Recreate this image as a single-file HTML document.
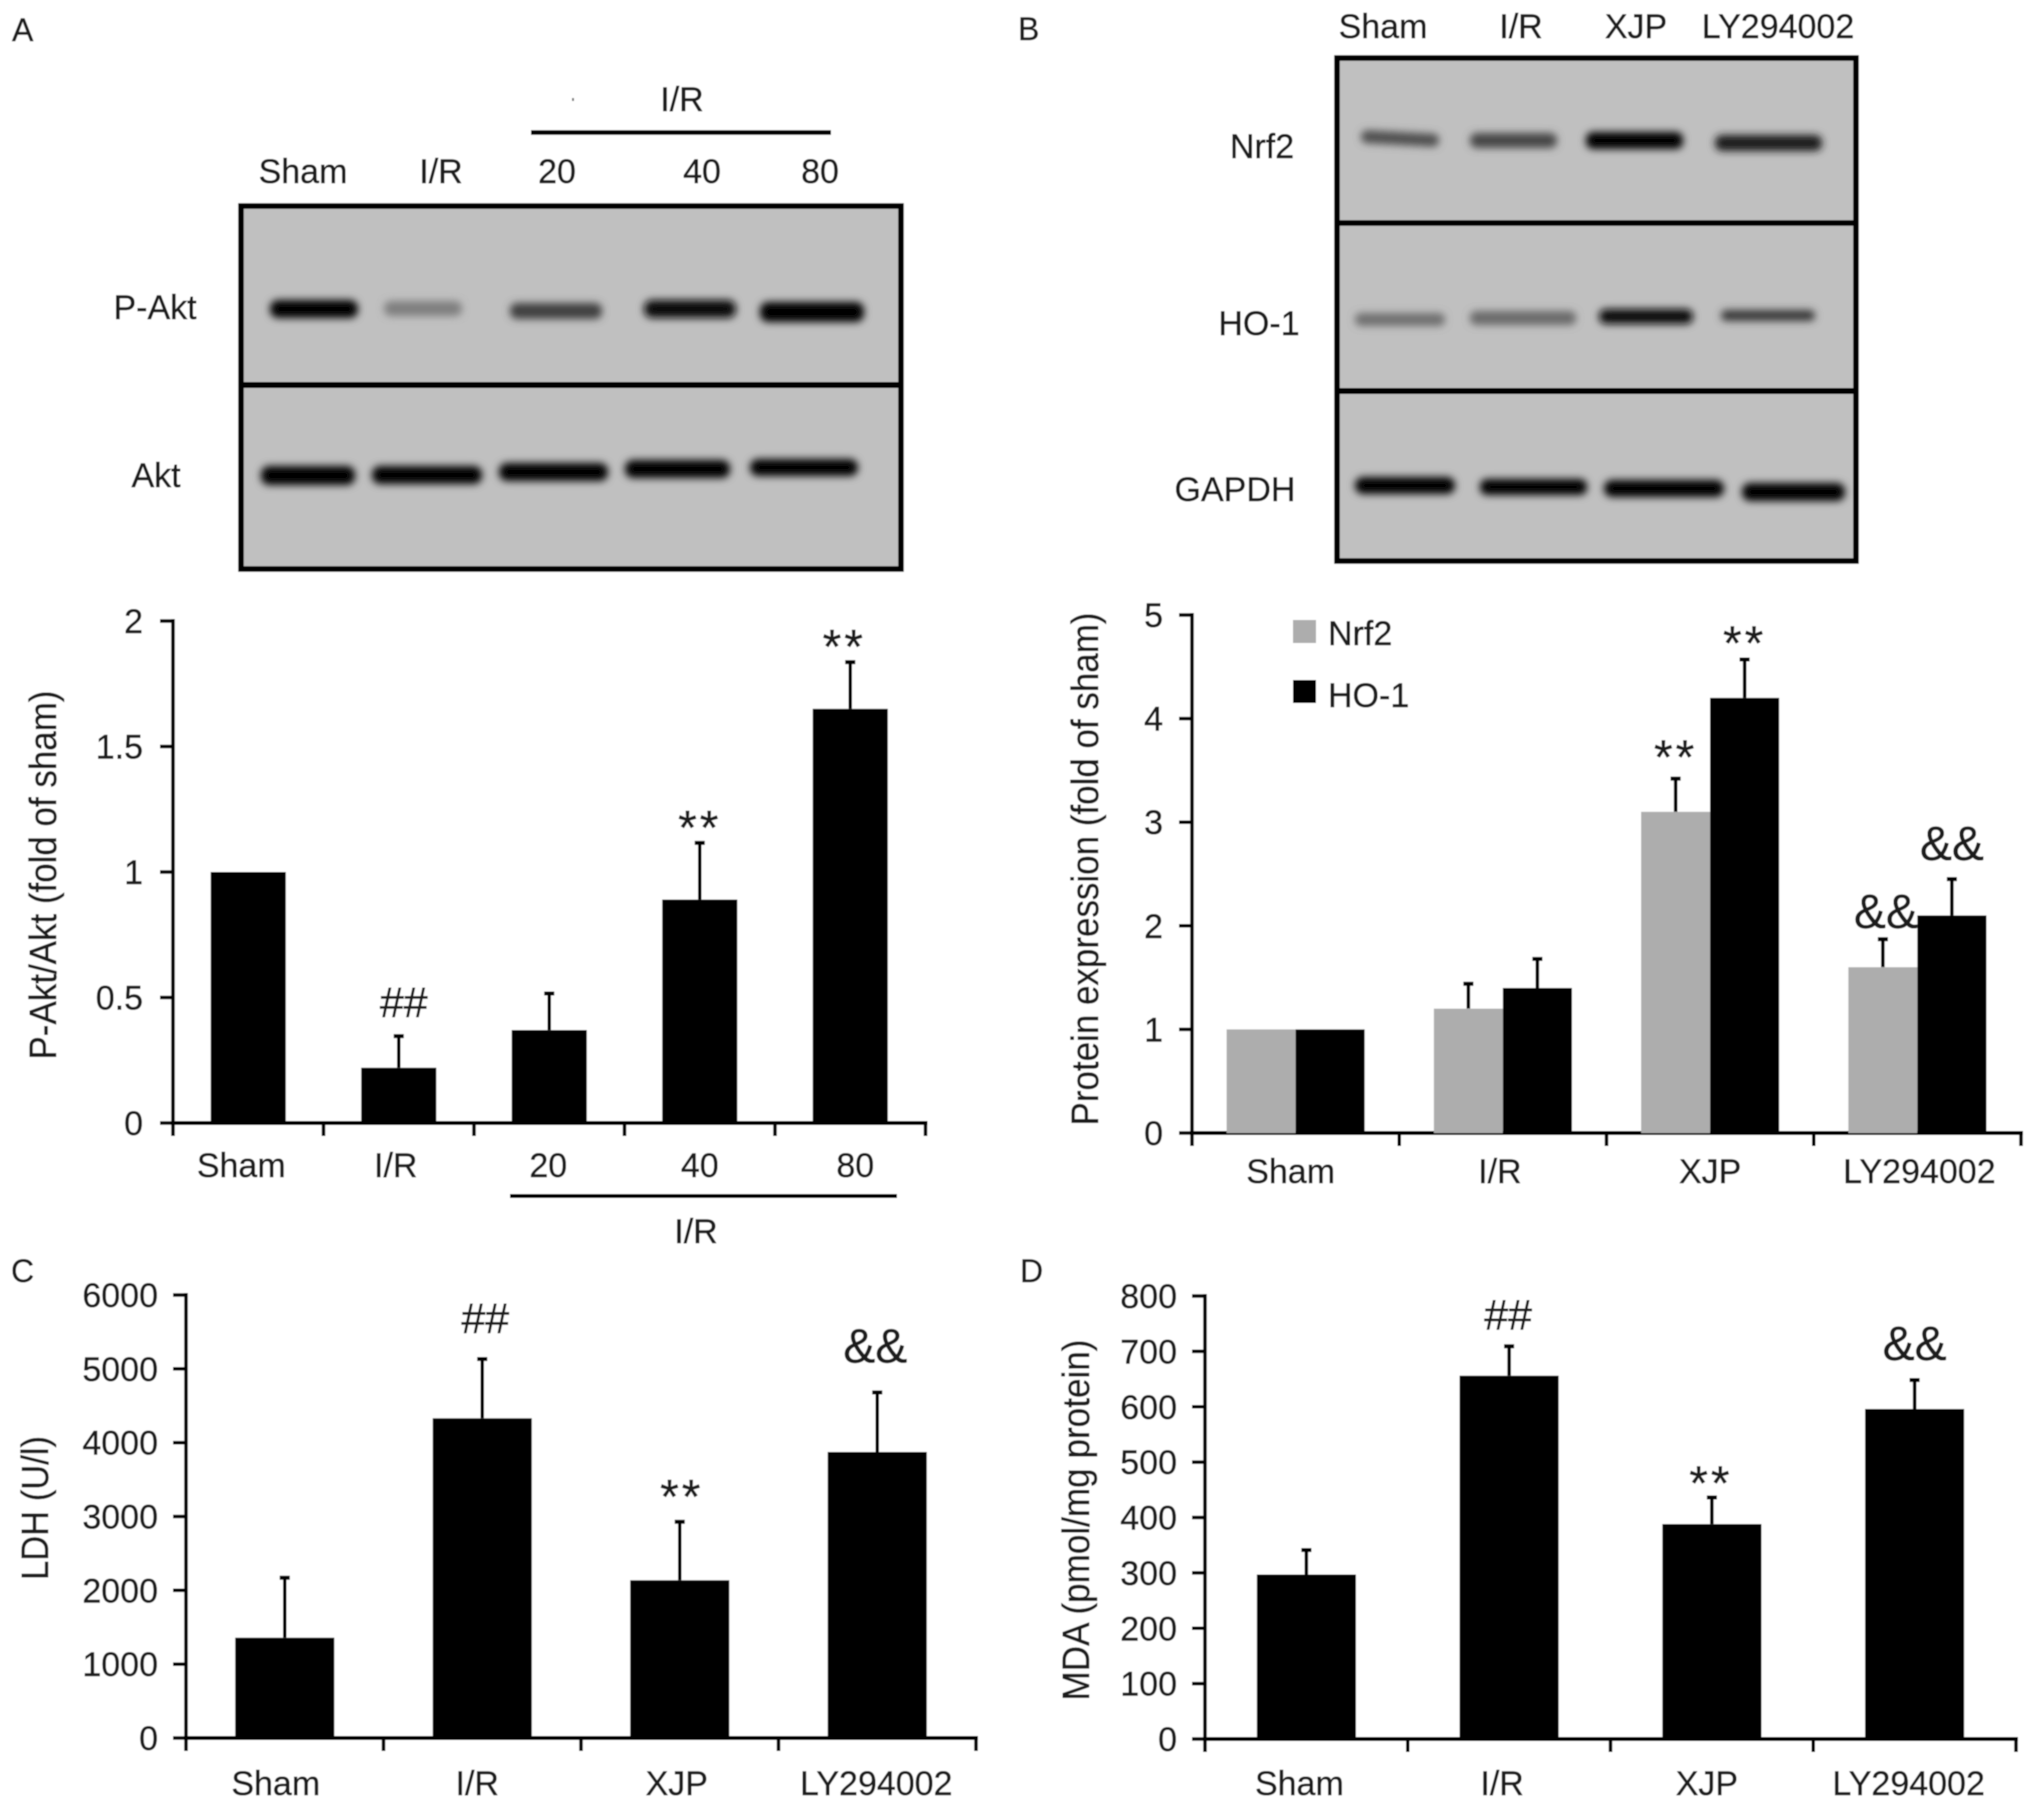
<!DOCTYPE html>
<html lang="en">
<head>
<meta charset="utf-8">
<title>Western blots and bar charts</title>
<style>
html,body{margin:0;padding:0;background:#fff;}
svg{display:block;}
text{font-family:"Liberation Sans",Arial,sans-serif;fill:#1a1a1a;stroke:#1a1a1a;stroke-width:0.45;}
</style>
</head>
<body>
<svg id="figure" xmlns="http://www.w3.org/2000/svg" width="2031" height="1806" viewBox="0 0 2031 1806">
<defs>
<filter id="band" x="-20%" y="-80%" width="140%" height="260%"><feGaussianBlur stdDeviation="4"/></filter>
<filter id="soft" x="-2%" y="-2%" width="104%" height="104%"><feGaussianBlur stdDeviation="0.65"/></filter>
</defs>
<g id="root" filter="url(#soft)">
<rect width="2031" height="1806" fill="#fff"/>

<g font-size="32">
<text x="12" y="41">A</text>
<text x="1018" y="40">B</text>
<text x="11" y="1282">C</text>
<text x="1020" y="1282">D</text>
</g>

<g>
<rect x="241" y="206" width="660" height="363" fill="#c0c0c0" stroke="#000" stroke-width="5.500"/>
<line x1="241" x2="901" y1="385" y2="385" stroke="#000" stroke-width="6"/>
<g filter="url(#band)">
<rect x="270" y="300" width="88" height="18" rx="8" fill="#000"/>
<rect x="384" y="301" width="78" height="15" rx="7" fill="#7f7f7f"/>
<rect x="510" y="303" width="92" height="16" rx="7" fill="#404040"/>
<rect x="644" y="300" width="92" height="18" rx="8" fill="#0a0a0a"/>
<rect x="760" y="302" width="104" height="20" rx="8" fill="#000"/>
<rect x="261" y="466" width="94" height="19" rx="8" fill="#000"/>
<rect x="372" y="466" width="110" height="18" rx="8" fill="#000"/>
<rect x="499" y="463" width="109" height="18" rx="8" fill="#000"/>
<rect x="625" y="460" width="105" height="18" rx="8" fill="#000"/>
<rect x="750" y="459" width="108" height="17" rx="8" fill="#000"/>
</g>
<g font-size="34">
<text x="303" y="183" text-anchor="middle">Sham</text>
<text x="441" y="183" text-anchor="middle">I/R</text>
<text x="557" y="183" text-anchor="middle">20</text>
<text x="702" y="183" text-anchor="middle">40</text>
<text x="820" y="183" text-anchor="middle">80</text>
<text x="682" y="111" text-anchor="middle">I/R</text>
<text x="155" y="319" text-anchor="middle">P-Akt</text>
<text x="156" y="487" text-anchor="middle">Akt</text>
</g>
<line x1="531" x2="831" y1="132.500" y2="132.500" stroke="#000" stroke-width="4.500"/>
<rect x="572" y="98" width="2" height="3" fill="#777"/>
</g>

<g>
<rect x="1337" y="58" width="519" height="503" fill="#c0c0c0" stroke="#000" stroke-width="5.500"/>
<line x1="1337" x2="1856" y1="223" y2="223" stroke="#000" stroke-width="5.500"/>
<line x1="1337" x2="1856" y1="391" y2="391" stroke="#000" stroke-width="6"/>
<g filter="url(#band)">
<rect x="1361" y="132" width="78" height="13" rx="6" fill="#505050" transform="rotate(3 1400 139)"/>
<rect x="1470" y="133" width="87" height="15" rx="7" fill="#474747"/>
<rect x="1586" y="132" width="97" height="17" rx="7" fill="#000"/>
<rect x="1715" y="135" width="107" height="16" rx="7" fill="#1c1c1c"/>
<rect x="1355" y="313" width="90" height="13" rx="6" fill="#707070"/>
<rect x="1470" y="311" width="106" height="14" rx="6" fill="#6a6a6a"/>
<rect x="1599" y="309" width="94" height="15" rx="7" fill="#0c0c0c"/>
<rect x="1721" y="310" width="94" height="11" rx="5" fill="#383838"/>
<rect x="1355" y="477" width="100" height="17" rx="8" fill="#000"/>
<rect x="1480" y="479" width="107" height="16" rx="7" fill="#000"/>
<rect x="1604" y="480" width="120" height="17" rx="8" fill="#000"/>
<rect x="1742" y="483" width="103" height="18" rx="8" fill="#000"/>
</g>
<g font-size="34">
<text x="1383" y="38" text-anchor="middle">Sham</text>
<text x="1521" y="38" text-anchor="middle">I/R</text>
<text x="1636" y="38" text-anchor="middle">XJP</text>
<text x="1778" y="38" text-anchor="middle">LY294002</text>
<text x="1262" y="158" text-anchor="middle">Nrf2</text>
<text x="1259" y="335" text-anchor="middle">HO-1</text>
<text x="1235" y="501" text-anchor="middle">GAPDH</text>
</g>
</g>

<g id="chartA"></g>
<g id="chartB"></g>
<g id="chartC"></g>
<g id="chartD"></g>

<g>
<line x1="510" x2="897" y1="1196" y2="1196" stroke="#000" stroke-width="4"/>
<text x="696" y="1243" font-size="34" text-anchor="middle">I/R</text>
</g>

<g font-size="34">
<rect x="1293" y="620" width="23" height="23" fill="#adadad"/>
<text x="1328" y="645">Nrf2</text>
<rect x="1293" y="680" width="23" height="23" fill="#000"/>
<text x="1328" y="707">HO-1</text>
</g>
</g>
</svg>

<script>
// Chart A
const aCategories = ['Sham', 'I/R', '20', '40', '80'];
const aValues = [1, 0.22, 0.37, 0.89, 1.65];
const aErrorTops = [null, 0.35, 0.52, 1.12, 1.84];
const aTicks = [0, 0.5, 1, 1.5, 2];
// Chart B
const bCategories = ['Sham', 'I/R', 'XJP', 'LY294002'];
const bNrf2 = [1, 1.2, 3.1, 1.6];
const bHo1 = [1, 1.4, 4.2, 2.1];
const bNrf2ErrorTops = [null, 1.45, 3.43, 1.88];
const bHo1ErrorTops = [null, 1.69, 4.58, 2.46];
const bTicks = [0, 1, 2, 3, 4, 5];
// Chart C
const cCategories = ['Sham', 'I/R', 'XJP', 'LY294002'];
const cValues = [1358, 4330, 2136, 3874];
const cErrorTops = [2184, 5146, 2942, 4694];
const cTicks = [0, 1000, 2000, 3000, 4000, 5000, 6000];
// Chart D
const dCategories = ['Sham', 'I/R', 'XJP', 'LY294002'];
const dValues = [297, 656, 388, 596];
const dErrorTops = [343, 711, 438, 650];
const dTicks = [0, 100, 200, 300, 400, 500, 600, 700, 800];

const SVG_NS = 'http://www.w3.org/2000/svg';

function make(parent, tag, attrs, text) {
  const el = document.createElementNS(SVG_NS, tag);
  for (const k in attrs) el.setAttribute(k, attrs[k]);
  if (text !== undefined) el.textContent = text;
  parent.appendChild(el);
  return el;
}

function makeScale(cfg) {
  const maxTick = cfg.ticks[cfg.ticks.length - 1];
  cfg.y = v => cfg.y0 - (v / maxTick) * (cfg.y0 - cfg.yTop);
  cfg.step = (cfg.xEnd - cfg.x0) / cfg.categories.length;
  cfg.center = i => cfg.x0 + (i + 0.5) * cfg.step;
}

function drawAxes(cfg) {
  const g = cfg.g;
  cfg.ticks.forEach(t => {
    const tick = make(g, 'line', {x1: cfg.x0 - 13, x2: cfg.x0, y1: cfg.y(t), y2: cfg.y(t), stroke: '#000', 'stroke-width': 3.5});
    
    
    const label = make(g, 'text', {x: cfg.tickRight, y: cfg.y(t) + 12, 'text-anchor': 'end', 'font-size': 34}, String(t));
    
    
  });
  for (let i = 0; i <= cfg.categories.length; i++) {
    const xt = cfg.x0 + i * cfg.step;
    const tick = make(g, 'line', {x1: xt, x2: xt, y1: cfg.y0, y2: cfg.y0 + 13, stroke: '#000', 'stroke-width': 3.5});
    
    
  }
  cfg.categories.forEach((c, i) => {
    const label = make(g, 'text', {x: cfg.center(i) + cfg.labelDx[i], y: cfg.labelY, 'text-anchor': 'middle', 'font-size': 34}, c);
    
    
  });
  const yAxis = make(g, 'line', {x1: cfg.x0, x2: cfg.x0, y1: cfg.yTop - 2, y2: cfg.y0 + 2, stroke: '#000', 'stroke-width': 3.5});
  
  
  const xAxis = make(g, 'line', {x1: cfg.x0 - 2, x2: cfg.xEnd + 2, y1: cfg.y0, y2: cfg.y0, stroke: '#000', 'stroke-width': 4});
  
  
  const title = make(g, 'text', {
    transform: 'translate(' + cfg.titleX + ',' + cfg.titleY + ') rotate(-90)',
    'text-anchor': 'middle', 'font-size': 38,
    textLength: cfg.titleLen, lengthAdjust: 'spacingAndGlyphs'
  }, cfg.title);
  
  
}

function drawBar(cfg, cx, width, value, errTop, fill) {
  const g = cfg.g;
  if (errTop !== null) {
    const err = make(g, 'line', {x1: cx, x2: cx, y1: cfg.y(value), y2: cfg.y(errTop), stroke: '#000', 'stroke-width': 3.5});
    
    
    const cap = make(g, 'line', {x1: cx - 5, x2: cx + 5, y1: cfg.y(errTop) + 1, y2: cfg.y(errTop) + 1, stroke: '#000', 'stroke-width': 4});
    
    
  }
  const bar = make(g, 'rect', {x: cx - width / 2, y: cfg.y(value), width: width, height: cfg.y0 - cfg.y(value), fill: fill});
  
  
}

function drawMark(cfg, cx, errTop, text, gap, dx) {
  const star = text === '**';
  const amp = text === '&&';
  const baseline = cfg.y(errTop) - gap + (star ? 17 : 0);
  const mark = make(cfg.g, 'text', {
    x: cx + dx, y: baseline, 'text-anchor': 'middle',
    'font-size': star ? 48 : (amp ? 48 : 43), 'letter-spacing': star ? 3 : 0
  }, text);
  
  
}

const chartA = {g: document.getElementById('chartA'), categories: aCategories, ticks: aTicks, x0: 173, xEnd: 925.5, y0: 1123, yTop: 621, tickRight: 143, labelY: 1177, labelDx: [-7, -3, -1, 0, 5], title: 'P-Akt/Akt (fold of sham)', titleX: 56, titleY: 875, titleLen: 369};
const chartB = {g: document.getElementById('chartB'), categories: bCategories, ticks: bTicks, x0: 1192, xEnd: 2021, y0: 1133, yTop: 615, tickRight: 1163, labelY: 1183, labelDx: [-5, -3, 0, 2], title: 'Protein expression (fold of sham)', titleX: 1098, titleY: 869, titleLen: 513};
const chartC = {g: document.getElementById('chartC'), categories: cCategories, ticks: cTicks, x0: 186, xEnd: 976, y0: 1738, yTop: 1295, tickRight: 158, labelY: 1795, labelDx: [-9, -5, -3, -1], title: 'LDH (U/l)', titleX: 48, titleY: 1508, titleLen: 144};
const chartD = {g: document.getElementById('chartD'), categories: dCategories, ticks: dTicks, x0: 1205, xEnd: 2016, y0: 1739, yTop: 1296, tickRight: 1177, labelY: 1795, labelDx: [-7, -7, -5, -6], title: 'MDA (pmol/mg protein)', titleX: 1089, titleY: 1520, titleLen: 361};

[chartA, chartB, chartC, chartD].forEach(makeScale);
[chartA, chartB, chartC, chartD].forEach(drawAxes);

aCategories.forEach((c, i) => drawBar(chartA, chartA.center(i), 75, aValues[i], aErrorTops[i], '#000'));
cCategories.forEach((c, i) => drawBar(chartC, chartC.center(i), 99, cValues[i], cErrorTops[i], '#000'));
dCategories.forEach((c, i) => drawBar(chartD, chartD.center(i), 99, dValues[i], dErrorTops[i], '#000'));
bCategories.forEach((c, i) => {
  const cx = chartB.center(i);
  drawBar(chartB, cx - 34.5, 69, bNrf2[i], bNrf2ErrorTops[i], '#adadad');
  drawBar(chartB, cx + 34.5, 69, bHo1[i], bHo1ErrorTops[i], '#000');
});

drawMark(chartA, chartA.center(1), aErrorTops[1], '##', 18, 5);
drawMark(chartA, chartA.center(3), aErrorTops[3], '**', 15, 0);
drawMark(chartA, chartA.center(4), aErrorTops[4], '**', 15, -6);

drawMark(chartB, chartB.center(2) - 34.5, bNrf2ErrorTops[2], '**', 21, 0);
drawMark(chartB, chartB.center(2) + 34.5, bHo1ErrorTops[2], '**', 16, 0);
drawMark(chartB, chartB.center(3) - 34.5, bNrf2ErrorTops[3], '&&', 10, 3);
drawMark(chartB, chartB.center(3) + 34.5, bHo1ErrorTops[3], '&&', 18, 0);

drawMark(chartC, chartC.center(1), cErrorTops[1], '##', 25, 3);
drawMark(chartC, chartC.center(2), cErrorTops[2], '**', 25, 2);
drawMark(chartC, chartC.center(3), cErrorTops[3], '&&', 29, -2);

drawMark(chartD, chartD.center(1), dErrorTops[1], '##', 16, -1);
drawMark(chartD, chartD.center(2), dErrorTops[2], '**', 14, -1);
drawMark(chartD, chartD.center(3), dErrorTops[3], '&&', 19, 0);
</script>
</body>
</html>
